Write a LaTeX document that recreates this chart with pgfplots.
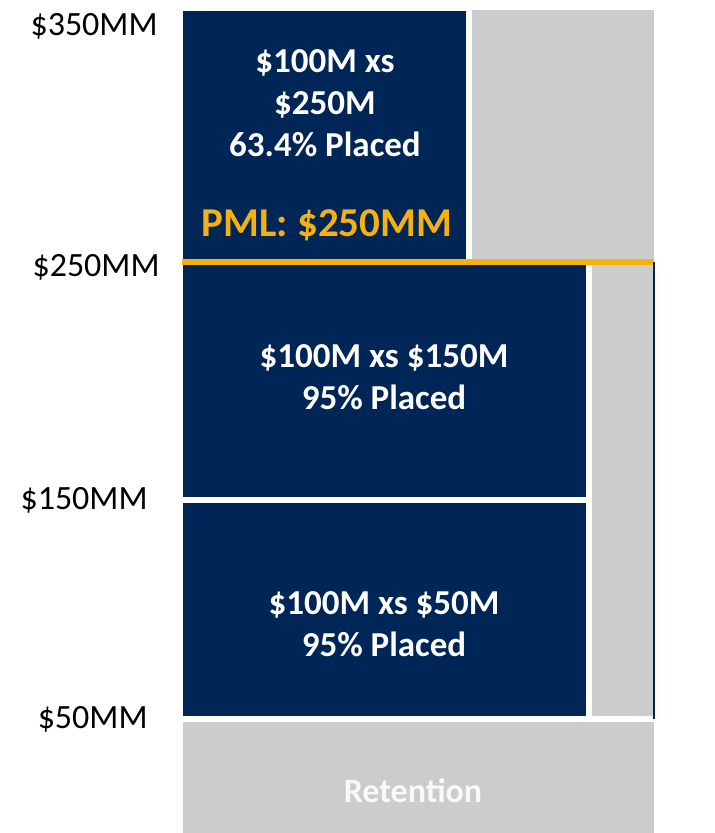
\documentclass[border=0pt]{standalone}
\usepackage{pgfplots}
\pgfplotsset{compat=1.18}
\usepackage{fontspec}
\setmainfont{Carlito}
\definecolor{navy}{HTML}{002557}
\definecolor{towergray}{HTML}{CBCCCE}
\definecolor{gold}{HTML}{F5B111}
\begin{document}
\begin{tikzpicture}
\path[use as bounding box] (-91.5pt,0pt) rectangle (265.5pt,416.5pt);
\begin{axis}[
  at={(0pt,0pt)}, anchor=south west, scale only axis,
  width=235.5pt, height=411.5pt,
  xmin=183, xmax=654, ymin=0, ymax=350,
  y coord trafo/.code={\pgfmathparse{#1<=50 ? #1*2.27 : (#1<=150 ? 113.5+(#1-50)*2.19 : (#1<=250 ? 332.5+(#1-150)*2.385 : 571+(#1-250)*2.52))}},
  axis lines=none, clip=false,
]
% Retention
\addplot[fill=towergray, draw=white, line width=3pt] coordinates {(180,-5) (657,-5) (657,50) (180,50)} -- cycle;
% $100M xs $50M
\addplot[fill=navy, draw=white, line width=3pt] coordinates {(180,50) (589,50) (589,150) (180,150)} -- cycle;
% $100M xs $150M
\addplot[fill=navy, draw=white, line width=3pt] coordinates {(180,150) (589,150) (589,250) (180,250)} -- cycle;
% unplaced share, lower layers
\addplot[fill=towergray, draw=white, line width=3pt] coordinates {(589,50) (656,50) (656,250) (589,250)} -- cycle;
% $100M xs $250M
\addplot[fill=navy, draw=white, line width=3pt] coordinates {(180,250) (469,250) (469,350.8) (180,350.8)} -- cycle;
\addplot[fill=towergray, draw=white, line width=3pt] coordinates {(469,250) (657,250) (657,351.2) (469,351.2)} -- cycle;
% PML line
\addplot[gold, line width=3pt] coordinates {(182,250) (654,250)};
\addplot[navy, line width=0.6pt] coordinates {(654,50) (654,250)};

% axis labels
\node[anchor=east, inner sep=0pt, font=\fontsize{17}{20}\selectfont] at (axis cs:158,343.6) {\$350MM};
\node[anchor=east, inner sep=0pt, font=\fontsize{17}{20}\selectfont] at (axis cs:160,247.9) {\$250MM};
\node[anchor=east, inner sep=0pt, font=\fontsize{17}{20}\selectfont] at (axis cs:148,150.0) {\$150MM};
\node[anchor=east, inner sep=0pt, font=\fontsize{17}{20}\selectfont] at (axis cs:148,50.0) {\$50MM};

% layer texts
\node[align=center, text=white, font=\bfseries\fontsize{17.5}{21}\selectfont] at (axis cs:325,313.1) {\$100M xs\\\$250M\\63.4\% Placed};
\node[text=gold, font=\bfseries\fontsize{20.5}{24}\selectfont] at (axis cs:327,264.7) {PML: \$250MM};
\node[align=center, text=white, font=\bfseries\fontsize{17.5}{21}\selectfont] at (axis cs:384,201.6) {\$100M xs \$150M\\95\% Placed};
\node[align=center, text=white, font=\bfseries\fontsize{17.5}{21}\selectfont] at (axis cs:384,93.4) {\$100M xs \$50M\\95\% Placed};
\node[text=white!95!gray, font=\bfseries\fontsize{17}{20}\selectfont] at (axis cs:413,18.5) {Retention};
\end{axis}
\end{tikzpicture}
\end{document}
